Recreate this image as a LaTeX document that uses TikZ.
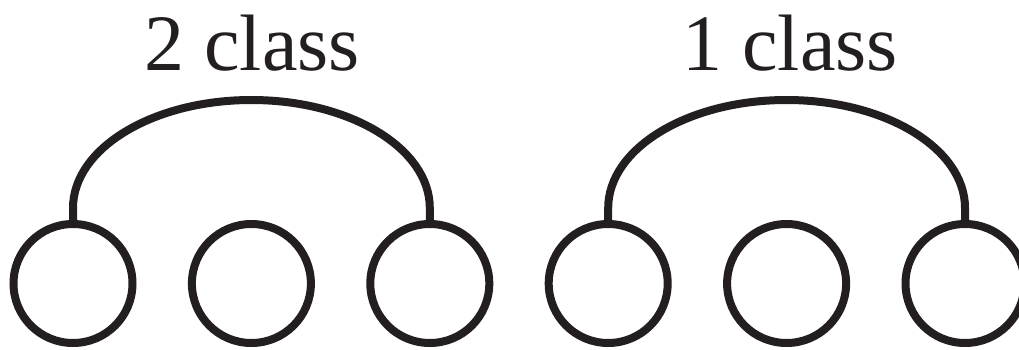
\documentclass[tikz,border=0pt]{standalone}
\usepackage{fontspec}
\setmainfont{Liberation Serif}
\definecolor{ink}{HTML}{231F20}
\begin{document}
\begin{tikzpicture}[x=1pt,y=1pt,
  unit/.style={draw=ink,circle,line width=8pt,minimum size=119pt,inner sep=0pt},
  link/.style={draw=ink,line width=8pt},
  lbl/.style={anchor=base,inner sep=0pt,text=ink,font=\fontsize{80}{80}\selectfont}]
\useasboundingbox (0,0) rectangle (1019,349);
\clip (0,0) rectangle (1019,349);
\foreach \i in {1,...,6}{
  \node[unit] (c\i) at ({73+178.4*(\i-1)},65.5) {};
}
\draw[link] (c1.north) -- ++(0,12) arc[start angle=180,end angle=0,x radius=178.4,y radius=108] -- (c3.north);
\draw[link] (c4.north) -- ++(0,12) arc[start angle=180,end angle=0,x radius=178.4,y radius=108] -- (c6.north);
\node[lbl] (t1) at (252,279) {2 class};
\node[lbl] (t2) at (790,279) {1 class};
\end{tikzpicture}
\end{document}
